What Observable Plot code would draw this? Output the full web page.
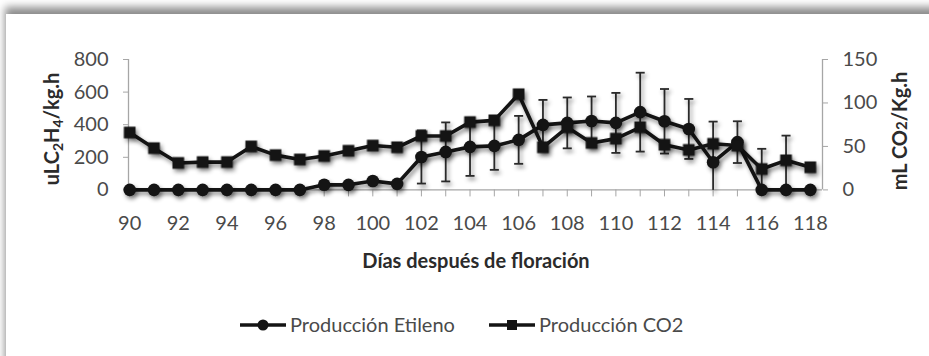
<!DOCTYPE html>
<html>
<head>
<meta charset="utf-8">
<script src="https://cdn.jsdelivr.net/npm/d3@7"></script>
<script src="https://cdn.jsdelivr.net/npm/@observablehq/plot@0.6"></script>
<style>
  html, body { margin: 0; padding: 0; background: #fff; width: 929px; height: 356px; overflow: hidden; }
  #panel { position: absolute; left: 6px; top: 14px; width: 1000px; height: 420px; background: #fff;
           box-shadow: -1px -7px 8px rgba(0,0,0,0.45); }
  #chart { position: absolute; left: 0; top: 0; }
  text { font-family: Lato, "Open Sans", sans-serif; }
</style>
</head>
<body>
<div id="panel"></div>
<div id="chart"></div>
<script>
// Days after flowering
const days = [90, 91, 92, 93, 94, 95, 96, 97, 98, 99, 100, 101, 102, 103, 104,
              105, 106, 107, 108, 109, 110, 111, 112, 113, 114, 115, 116, 117, 118];
// Ethylene production (uL C2H4 / kg.h) and its standard deviation
const etileno = [0, 0, 0, 0, 0, 0, 0, 0, 32, 31, 55, 37, 202, 233, 264,
                 270, 307, 399, 411, 423, 411, 477, 421, 374, 170, 293, 0, 0, 0];
const etilenoErr = [0, 0, 0, 0, 0, 0, 0, 0, 0, 0, 0, 0, 163, 181, 178,
                    147, 147, 153, 156, 150, 184, 242, 198, 184, 249, 128, 252, 333, 0];
// CO2 production (mL CO2 / kg.h)
const co2 = [66, 48, 31, 32, 32, 50, 40, 35, 39, 45, 51, 49, 62, 62, 78,
             80, 110, 49, 72, 54, 59, 72, 52, 46, 53, 51, 24, 34, 26];

const xTickLabels = [90, 92, 94, 96, 98, 100, 102, 104, 106, 108, 110, 112, 114, 116, 118];
const yLeftTicks = [0, 200, 400, 600, 800];
const yRightTicks = [0, 50, 100, 150];

const seriesNames = ["Producción Etileno", "Producción CO2"];

// CO2 shares the vertical scale: 150 on the right matches 800 on the left
const k = 800 / 150;

const rows = days.map((d, i) => ({day: d, et: etileno[i], err: etilenoErr[i], co2: co2[i]}));
const errRows = rows.filter(r => r.err > 0);

const ink = "#141414";
const axisGray = "#a6a6a6";
const labelColor = "#4a4a4a";
const xDomain = [89.95, 118.5];

// Horizontal cap for the error bars
const capSymbol = {
  draw(ctx, size) {
    const w = Math.sqrt(size) / 2;
    ctx.moveTo(-w, 0);
    ctx.lineTo(w, 0);
  }
};

const W = 929, H = 356;

const chart = Plot.plot({
  width: W,
  height: H,
  marginLeft: 128,
  marginRight: 107,
  marginTop: 59,
  marginBottom: H - 189.4,
  style: {fontFamily: "Lato, 'Open Sans', sans-serif", fontSize: "20px", color: labelColor, background: "transparent", overflow: "visible"},
  x: {domain: xDomain},
  y: {domain: [0, 800]},
  marks: [
    Plot.ruleY([0], {stroke: axisGray, strokeWidth: 1.3}),
    Plot.ruleX(xDomain, {y1: 0, y2: 800, stroke: axisGray, strokeWidth: 1.3}),
    Plot.axisX(days, {tickSize: 7, tickPadding: 19, stroke: axisGray, fill: labelColor, label: null,
      tickFormat: d => xTickLabels.includes(d) ? String(d) : ""}),
    Plot.axisY(yLeftTicks, {anchor: "left", tickSize: 5, tickPadding: 15,
      stroke: axisGray, fill: labelColor, label: null}),
    Plot.axisY(yRightTicks.map(v => v * k), {anchor: "right", tickSize: 5, tickPadding: 15,
      stroke: axisGray, fill: labelColor, label: null, tickFormat: d => String(Math.round(d / k))}),
    // error bars of the ethylene series (clipped at the baseline)
    Plot.link(errRows, {x1: "day", x2: "day", y1: d => Math.max(0, d.et - d.err), y2: d => d.et + d.err,
      stroke: "#2a2a2a", strokeWidth: 1.8}),
    Plot.dot(errRows, {x: "day", y: d => d.et + d.err, symbol: capSymbol, r: 5.1,
      stroke: "#2a2a2a", strokeWidth: 1.8, fill: "none"}),
    Plot.dot(errRows.filter(d => d.et - d.err > 0), {x: "day", y: d => d.et - d.err, symbol: capSymbol, r: 5.1,
      stroke: "#2a2a2a", strokeWidth: 1.8, fill: "none"}),
    // ethylene
    Plot.line(rows, {x: "day", y: "et", stroke: ink, strokeWidth: 3.6}),
    Plot.dot(rows, {x: "day", y: "et", r: 6.3, fill: ink, stroke: "none", symbol: "circle"}),
    // CO2
    Plot.line(rows, {x: "day", y: d => d.co2 * k, stroke: ink, strokeWidth: 3.6}),
    Plot.dot(rows, {x: "day", y: d => d.co2 * k, r: 6.6, fill: ink, stroke: "none", symbol: "square"})
  ]
});

const svg = d3.select(chart);

// soft drop shadow on series and error bars
svg.selectAll('g[aria-label="line"], g[aria-label="dot"], g[aria-label="link"]')
  .style("filter", "drop-shadow(2px 3px 2px rgba(0,0,0,0.45))");

// Left axis title: uLC2H4/kg.h
const lt = svg.append("text")
  .attr("transform", "translate(59,129) rotate(-90)")
  .attr("text-anchor", "middle")
  .attr("font-weight", "bold")
  .attr("font-size", 20)
  .attr("fill", "#2b2b2b");
lt.append("tspan").text("uLC");
lt.append("tspan").text("2").attr("font-size", 14).attr("dy", 4);
lt.append("tspan").text("H").attr("dy", -4);
lt.append("tspan").text("4").attr("font-size", 14).attr("dy", 4);
lt.append("tspan").text("/kg.h").attr("dy", -4);

// Right axis title: mL CO2/Kg.h
const rt = svg.append("text")
  .attr("transform", "translate(907,131) rotate(-90)")
  .attr("text-anchor", "middle")
  .attr("font-weight", "bold")
  .attr("font-size", 20)
  .attr("fill", "#2b2b2b");
rt.append("tspan").text("mL CO");
rt.append("tspan").text("2").attr("font-size", 15);
rt.append("tspan").text("/Kg.h").attr("font-size", 20);

// X axis title
svg.append("text")
  .attr("x", 476).attr("y", 268)
  .attr("text-anchor", "middle")
  .attr("font-weight", "bold")
  .attr("font-size", 20)
  .attr("fill", "#2b2b2b")
  .text("Días después de floración");

// Legend
const lg = svg.append("g").attr("fill", labelColor).attr("font-size", 20).attr("text-anchor", "start");
const entries = [
  {name: seriesNames[0], x0: 240, symbol: "circle"},
  {name: seriesNames[1], x0: 489, symbol: "square"}
];
const ly = 325;
for (const e of entries) {
  lg.append("line").attr("x1", e.x0).attr("x2", e.x0 + 46).attr("y1", ly).attr("y2", ly)
    .attr("stroke", ink).attr("stroke-width", 3.6);
  if (e.symbol === "circle") {
    lg.append("circle").attr("cx", e.x0 + 23).attr("cy", ly).attr("r", 5.5).attr("fill", ink);
  } else {
    lg.append("rect").attr("x", e.x0 + 18).attr("y", ly - 5).attr("width", 10).attr("height", 10).attr("fill", ink);
  }
  lg.append("text").attr("x", e.x0 + 50).attr("y", ly + 7).attr("text-anchor", "start").text(e.name);
}

document.getElementById("chart").appendChild(chart);
</script>
</body>
</html>
